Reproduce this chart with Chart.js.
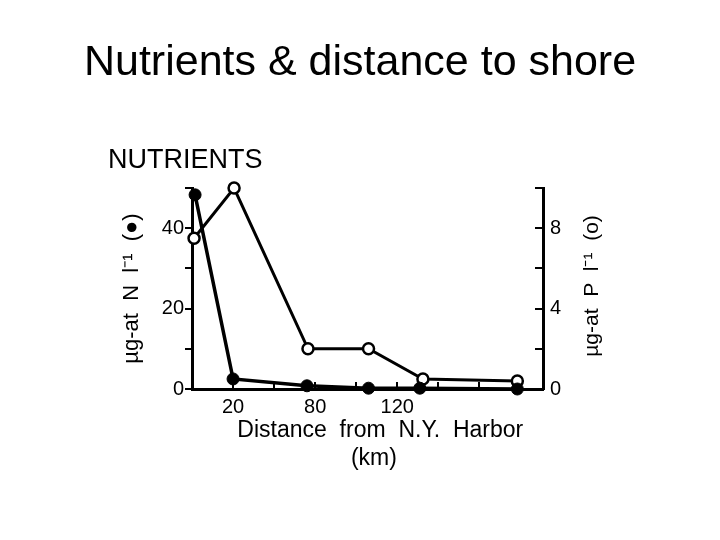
<!DOCTYPE html>
<html lang="en">
<head>
    <meta charset="UTF-8">
    <title>Nutrients & distance to shore</title>
    <script src="https://cdn.jsdelivr.net/npm/chart.js@4/dist/chart.umd.min.js"></script>
    <style>
        body {
            margin: 0;
            background: #fff;
        }
        #wrap {
            width: 720px;
            height: 540px;
        }
    </style>
</head>
<body>
    <div id="wrap">
        <canvas id="nutrients" width="720" height="540"></canvas>
    </div>

    <script>
        // distance along the axis (km, as drawn) and concentrations
        const nDistance = [1.5, 20, 56, 86, 111, 158.5];
        const nitrogen = [48.3, 2.5, 0.8, 0.2, 0.2, 0];        // µg-at N/l, filled dots
        const pDistance = [1, 20.5, 56.5, 86, 112.5, 158.5];
        const phosphorus = [7.5, 10, 2.0, 2.0, 0.5, 0.4];     // µg-at P/l, open dots

        const xTickValues = [20, 40, 60, 80, 100, 120, 140, 160];
        const xTickLabels = ['20', '', '80', '', '120', '', '', ''];
        const nTickValues = [0, 10, 20, 30, 40, 50];
        const nTickLabels = ['0', '', '20', '', '40', ''];
        const pTickValues = [0, 2, 4, 6, 8, 10];
        const pTickLabels = ['0', '', '4', '', '8', ''];

        const font = 'Liberation Sans, Arial, sans-serif';

        // chart area edges in the reference
        const AREA = { left: 192, right: 543, top: 188, bottom: 389 };
        const TITLE_SIZE = 43;

        // plain text that is not tied to a scale: the panel label and the right axis title
        const extraText = {
            id: 'extraText',
            afterDraw(chart) {
                const ctx = chart.ctx;
                ctx.save();
                ctx.fillStyle = '#000';
                ctx.font = '27px ' + font;
                ctx.textAlign = 'left';
                ctx.textBaseline = 'alphabetic';
                ctx.fillText('NUTRIENTS', 108, 168);

                ctx.translate(592, 286);
                ctx.rotate(-Math.PI / 2);
                ctx.font = '21px ' + font;
                ctx.textAlign = 'center';
                ctx.textBaseline = 'middle';
                ctx.fillText('\u00b5g-at  P  l\u207b\u00b9  (o)', 0, 0);
                ctx.restore();
            }
        };

        function fixedTicks(values) {
            return function(scale) {
                scale.ticks = values.map(v => ({ value: v }));
            };
        }

        new Chart(document.getElementById('nutrients').getContext('2d'), {
            type: 'line',
            data: {
                datasets: [
                    {
                        label: 'N',
                        data: nDistance.map((d, i) => ({ x: d, y: nitrogen[i] })),
                        yAxisID: 'yN',
                        borderColor: '#000',
                        backgroundColor: '#000',
                        borderWidth: 3.5,
                        pointRadius: 6,
                        pointBorderWidth: 1,
                        pointBackgroundColor: '#000',
                        tension: 0,
                        clip: false
                    },
                    {
                        label: 'P',
                        data: pDistance.map((d, i) => ({ x: d, y: phosphorus[i] })),
                        yAxisID: 'yP',
                        borderColor: '#000',
                        backgroundColor: '#fff',
                        borderWidth: 3,
                        pointRadius: 5.5,
                        pointBorderWidth: 2.5,
                        pointBackgroundColor: '#fff',
                        tension: 0,
                        clip: false
                    }
                ]
            },
            options: {
                responsive: false,
                animation: false,
                layout: { padding: 0 },
                plugins: {
                    legend: { display: false },
                    tooltip: { enabled: false },
                    title: {
                        display: true,
                        text: 'Nutrients & distance to shore',
                        color: '#000',
                        font: { family: font, size: TITLE_SIZE, weight: 'normal', lineHeight: 1.2 },
                        padding: { top: 63 - TITLE_SIZE * 0.6, bottom: AREA.top - 63 - TITLE_SIZE * 0.6 }
                    }
                },
                scales: {
                    x: {
                        type: 'linear',
                        position: 'bottom',
                        min: 0,
                        max: 171,
                        afterBuildTicks: fixedTicks(xTickValues),
                        afterFit(scale) { scale.height = 540 - AREA.bottom; },
                        border: { color: '#000', width: 3 },
                        grid: { drawOnChartArea: false, color: '#000', lineWidth: 2, tickLength: -7 },
                        ticks: {
                            color: '#000',
                            font: { family: font, size: 20 },
                            padding: 13,
                            maxRotation: 0,
                            autoSkip: false,
                            callback: (v, i) => xTickLabels[i]
                        },
                        title: {
                            display: true,
                            text: ['    Distance  from  N.Y.  Harbor', '  (km)'],
                            color: '#000',
                            font: { family: font, size: 23, lineHeight: 1.2 },
                            padding: { top: 0, bottom: 68 }
                        }
                    },
                    yN: {
                        type: 'linear',
                        position: 'left',
                        min: 0,
                        max: 50,
                        afterBuildTicks: fixedTicks(nTickValues),
                        afterFit(scale) { scale.width = AREA.left; },
                        border: { color: '#000', width: 3 },
                        grid: { drawOnChartArea: false, color: '#000', lineWidth: 2, tickLength: 7 },
                        ticks: {
                            color: '#000',
                            font: { family: font, size: 20 },
                            padding: 1,
                            callback: (v, i) => nTickLabels[i]
                        },
                        title: {
                            display: true,
                            text: '\u00b5g-at  N  l\u207b\u00b9  (\u25cf)',
                            color: '#000',
                            font: { family: font, size: 22, lineHeight: 1.2 },
                            padding: { top: 119, bottom: 0 }
                        }
                    },
                    yP: {
                        type: 'linear',
                        position: 'right',
                        min: 0,
                        max: 10,
                        afterBuildTicks: fixedTicks(pTickValues),
                        afterFit(scale) { scale.width = 720 - AREA.right; },
                        border: { color: '#000', width: 3 },
                        grid: { drawOnChartArea: false, color: '#000', lineWidth: 2, tickLength: -8 },
                        ticks: {
                            color: '#000',
                            font: { family: font, size: 20 },
                            padding: 15,
                            callback: (v, i) => pTickLabels[i]
                        }
                    }
                }
            },
            plugins: [extraText]
        });
    </script>
</body>
</html>
